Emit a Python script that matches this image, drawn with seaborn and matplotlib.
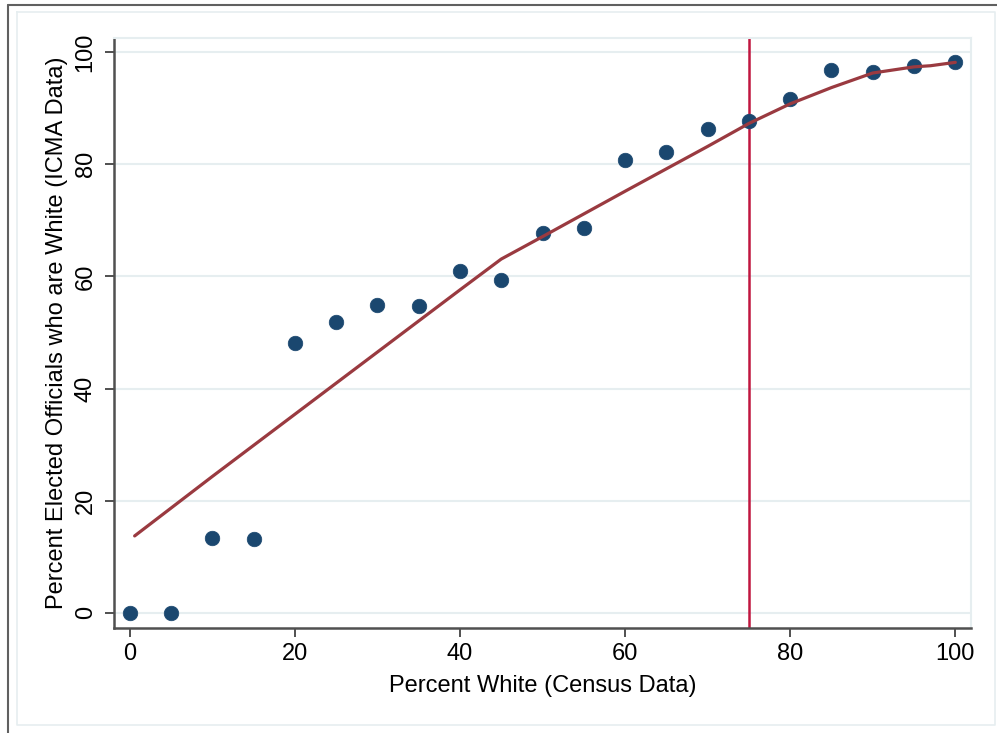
import matplotlib
matplotlib.use("Agg")
import matplotlib.pyplot as plt
import seaborn as sns
import pandas as pd
from matplotlib.lines import Line2D

# ---- data ----
pct_white = [0, 5, 10, 15, 20, 25, 30, 35, 40, 45, 50, 55, 60, 65, 70, 75, 80, 85, 90, 95, 100]
pct_officials = [0.0, 0.0, 13.3, 13.1, 48.1, 51.9, 54.9, 54.7, 60.9, 59.4, 67.8, 68.6,
                 80.8, 82.2, 86.3, 87.7, 91.7, 96.9, 96.5, 97.6, 98.2]
fit_x = [0.6, 10, 20, 30, 40, 45, 50, 60, 70, 75, 80, 85, 90, 95, 97, 100]
fit_y = [13.7, 24.3, 35.4, 46.5, 57.6, 63.1, 67.1, 75.2, 83.2, 87.3, 90.8, 93.7, 96.3, 97.4, 97.6, 98.2]
xticks = [0, 20, 40, 60, 80, 100]
yticks = [0, 20, 40, 60, 80, 100]
ref_x = 75

pts = pd.DataFrame({"x": pct_white, "y": pct_officials})
fit = pd.DataFrame({"x": fit_x, "y": fit_y})

sns.set_style("white")
plt.rcParams["font.family"] = ["Liberation Sans", "DejaVu Sans"]

W, H = 997, 733
fig = plt.figure(figsize=(W / 100, H / 100), dpi=100)
L, R, T, B = 114, 971, 37.7, 628
ax = fig.add_axes([L / W, 1 - B / H, (R - L) / W, (B - T) / H])

navy = "#1a476f"
maroon = "#9a3a40"
crimson = "#c0163f"
grid_c = "#e6eef0"

for yv in yticks:
    ax.axhline(yv, color=grid_c, lw=1.5, zorder=0)

ax.axvline(ref_x, color=crimson, lw=1.8, zorder=1)
sns.scatterplot(data=pts, x="x", y="y", ax=ax, color=navy, s=110,
                edgecolor=navy, linewidth=0.5, zorder=3)
sns.lineplot(data=fit, x="x", y="y", ax=ax, color=maroon, lw=2.3, zorder=4)

ax.set_xlim(-1.9, 101.9)
ax.set_ylim(-2.73, 102.6)
ax.set_xticks(xticks)
ax.set_yticks(yticks)
ax.set_xticklabels([str(v) for v in xticks])
ax.set_yticklabels([str(v) for v in yticks])
ax.grid(False)

for s in ["left", "bottom"]:
    ax.spines[s].set_color("#505050")
    ax.spines[s].set_linewidth(1.8)
for s in ["top", "right"]:
    ax.spines[s].set_color(grid_c)
    ax.spines[s].set_linewidth(1.5)

ax.tick_params(axis="both", which="major", length=6.5, width=1.4, color="#505050",
               labelsize=17, labelcolor="black", direction="out")
ax.tick_params(axis="x", pad=4, bottom=True)
ax.tick_params(axis="y", pad=6, left=True)
for lab in ax.get_yticklabels():
    lab.set_rotation(90)
    lab.set_va("center")

ax.set_xlabel("Percent White (Census Data)", fontsize=17, color="black")
ax.set_ylabel("Percent Elected Officials who are White (ICMA Data)", fontsize=17, color="black")
ax.xaxis.set_label_coords(0.5, -(686 - B) / (B - T))
ax.xaxis.label.set_va("center")
ax.yaxis.set_label_coords(-(L - 57) / (R - L), 0.5)
ax.yaxis.label.set_va("center")

# outer frame (dark top/left) and inner light frame
fig.add_artist(Line2D([8 / W, 1], [1 - 5 / H, 1 - 5 / H], color="#606060", lw=1.5))
fig.add_artist(Line2D([8 / W, 8 / W], [0, 1 - 5 / H], color="#606060", lw=1.5))
xs = [17 / W, 995 / W, 995 / W, 17 / W, 17 / W]
ys = [1 - 12 / H, 1 - 12 / H, 1 - 725 / H, 1 - 725 / H, 1 - 12 / H]
fig.add_artist(Line2D(xs, ys, color="#e6eef0", lw=1.2))

fig.savefig("out.png", dpi=100, facecolor="white")
